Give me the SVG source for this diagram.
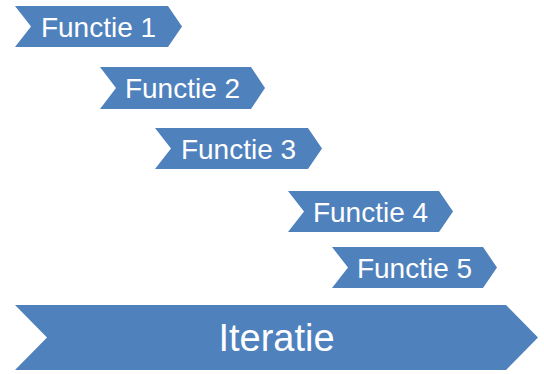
<svg xmlns="http://www.w3.org/2000/svg" width="544" height="374" viewBox="0 0 544 374">
<style>
.chev{fill:#4F81BD;}
.lbl{font-family:"Liberation Sans",Arial,sans-serif;font-size:28px;fill:#FFFFFF;text-anchor:middle;}
.big{font-size:38px;}
</style>
<rect width="544" height="374" fill="#FFFFFF"/>
<g id="connectors"></g>
<g id="functie1">
<polygon class="chev" points="15,6 168,6 182,26.5 168,47 15,47 31,26.5"/>
<text class="lbl" x="98.5" y="36.5">Functie 1</text>
</g>
<g id="functie2">
<polygon class="chev" points="100,67 251,67 265,88 251,109 100,109 116,88"/>
<text class="lbl" x="182.5" y="98">Functie 2</text>
</g>
<g id="functie3">
<polygon class="chev" points="155,128 308,128 322,148.5 308,169 155,169 171,148.5"/>
<text class="lbl" x="238.5" y="158.5">Functie 3</text>
</g>
<g id="functie4">
<polygon class="chev" points="288,191 439,191 453,211.5 439,232 288,232 304,211.5"/>
<text class="lbl" x="370.5" y="221.5">Functie 4</text>
</g>
<g id="functie5">
<polygon class="chev" points="332,247 483,247 497,267.5 483,288 332,288 348,267.5"/>
<text class="lbl" x="414.5" y="277.5">Functie 5</text>
</g>
<g id="iteratie">
<polygon class="chev" points="15,305 506,305 538,337.5 506,370 15,370 47,337.5"/>
<text class="lbl big" x="276.5" y="351">Iteratie</text>
</g>
</svg>
